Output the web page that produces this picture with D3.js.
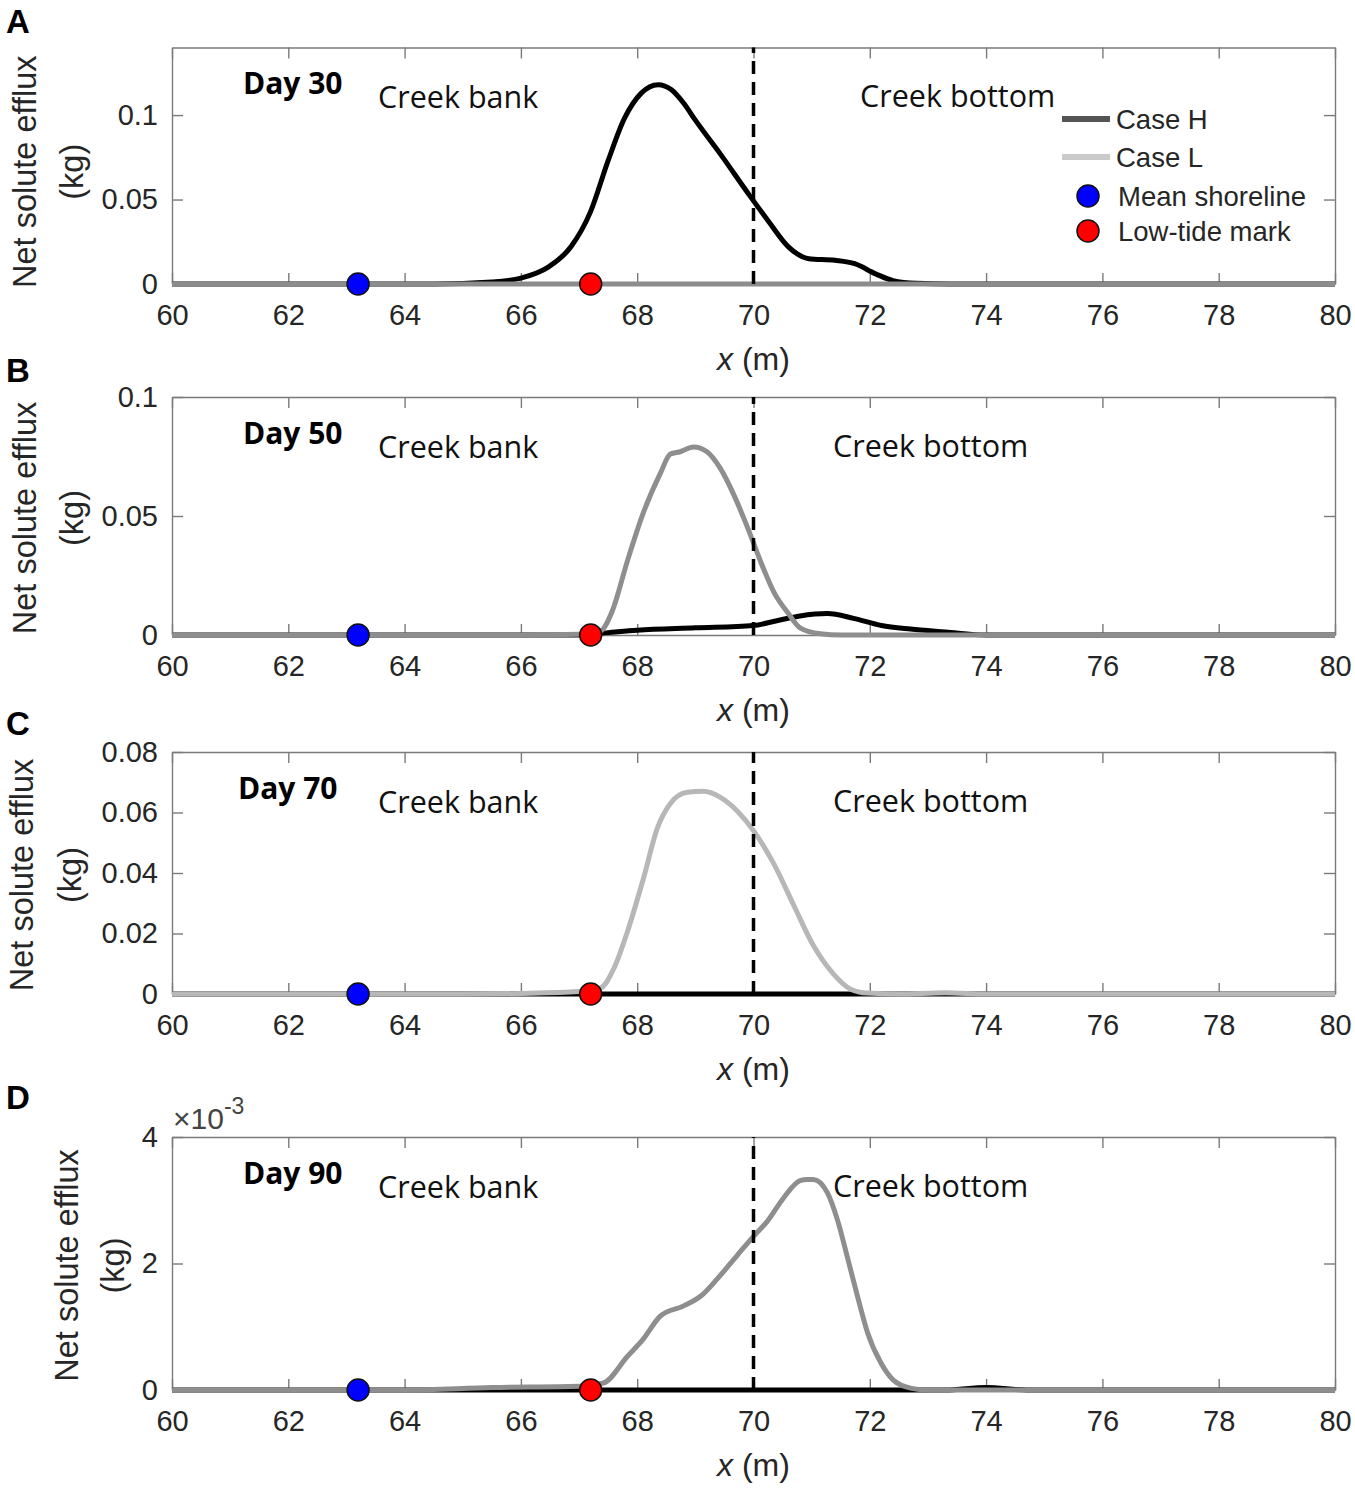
<!DOCTYPE html>
<html>
<head>
<meta charset="utf-8">
<script src="https://cdn.jsdelivr.net/npm/d3@7"></script>
<style>
  html, body { margin: 0; padding: 0; background: #fff; }
  svg { display: block; }
</style>
</head>
<body>
<svg id="chart" width="1355" height="1489"></svg>
<script>
// ---------------- DATA ----------------
const xDomain = [60, 80];
const xTicks = [60, 62, 64, 66, 68, 70, 72, 74, 76, 78, 80];
const panelLetters = ["A", "B", "C", "D"];
const dayLabels = ["Day 30", "Day 50", "Day 70", "Day 90"];
const yMax = [0.14, 0.1, 0.08, 4];
const yTicksA = [0, 0.05, 0.1];
const yTicksB = [0, 0.05, 0.1];
const yTicksC = [0, 0.02, 0.04, 0.06, 0.08];
const yTicksD = [0, 2, 4];
const yTickLabelsA = ["0", "0.05", "0.1"];
const yTickLabelsB = ["0", "0.05", "0.1"];
const yTickLabelsC = ["0", "0.02", "0.04", "0.06", "0.08"];
const yTickLabelsD = ["0", "2", "4"];
const meanShorelineX = 63.2;
const lowTideMarkX = 67.2;
const boundaryX = 70;

// Panel A (Day 30)
const xA_H = [60, 64.5, 65.5, 66.0, 66.47, 66.86, 67.2, 67.5, 67.78, 68.07, 68.36, 68.59, 68.8, 69.0, 69.45, 69.9, 70.26, 70.6, 70.95, 71.4, 71.74, 72.1, 72.4, 72.8, 73.4, 80];
const yA_H = [0, 0, 0.0012, 0.0035, 0.010, 0.022, 0.043, 0.073, 0.098, 0.113, 0.118, 0.115, 0.107, 0.097, 0.076, 0.054, 0.037, 0.022, 0.015, 0.014, 0.012, 0.006, 0.002, 0.0004, 0, 0];
const xA_L = [60, 70, 80];
const yA_L = [0, 0, 0];

// Panel B (Day 50)
const xB_H = [60, 67.0, 67.5, 68.0, 69.0, 70.0, 70.4, 70.8, 71.27, 71.72, 72.2, 72.7, 73.3, 74, 80];
const yB_H = [0, 0, 0.001, 0.002, 0.003, 0.004, 0.006, 0.008, 0.009, 0.007, 0.004, 0.0025, 0.0013, 0, 0];
const xB_L = [60, 66, 67.0, 67.37, 67.57, 67.83, 68.1, 68.4, 68.57, 68.74, 68.97, 69.2, 69.43, 69.66, 69.9, 70.12, 70.35, 70.6, 70.8, 71.15, 71.5, 80];
const yB_L = [0, 0, 0.0003, 0.0017, 0.010, 0.031, 0.051, 0.068, 0.076, 0.077, 0.079, 0.077, 0.070, 0.059, 0.045, 0.031, 0.018, 0.009, 0.003, 0.0005, 0, 0];

// Panel C (Day 70)
const xC_H = [60, 70, 80];
const yC_H = [0, 0, 0];
const xC_L = [60, 65, 66, 67.0, 67.37, 67.6, 67.83, 68.1, 68.35, 68.57, 68.86, 69.14, 69.43, 69.72, 70.0, 70.35, 70.7, 71.03, 71.38, 71.67, 71.96, 72.5, 73.3, 74, 80];
const yC_L = [0, 0, 0.0002, 0.0008, 0.002, 0.0085, 0.0205, 0.0377, 0.055, 0.063, 0.0667, 0.067, 0.065, 0.0605, 0.054, 0.043, 0.029, 0.016, 0.0065, 0.0016, 0.0003, 0, 0.0004, 0, 0];

// Panel D (Day 90), values in 1e-3 kg
const xD_H = [60, 73.3, 74.0, 74.7, 80];
const yD_H = [0, 0, 0.04, 0, 0];
const xD_L = [60, 64, 65.5, 67.0, 67.42, 67.83, 68.1, 68.4, 68.8, 69.1, 69.38, 69.72, 70.0, 70.24, 70.52, 70.8, 70.93, 71.03, 71.27, 71.45, 71.62, 71.8, 71.96, 72.19, 72.4, 72.7, 73.0, 80];
const yD_L = [0, 0, 0.04, 0.06, 0.11, 0.53, 0.8, 1.17, 1.33, 1.49, 1.76, 2.13, 2.43, 2.67, 3.04, 3.31, 3.33, 3.33, 3.12, 2.67, 2.08, 1.44, 0.91, 0.43, 0.16, 0.03, 0, 0];

const legendLabels = ["Case H", "Case L", "Mean shoreline", "Low-tide mark"];

// ---------------- LAYOUT / STYLE ----------------
const svg = d3.select("#chart");
const plotLeft = 172, plotRight = 1335;
const x = d3.scaleLinear().domain(xDomain).range([plotLeft, plotRight]);

const panels = [
  { top: 47.5, bottom: 284, letterY: 33, yTicks: yTicksA, yLabels: yTickLabelsA, xH: xA_H, yH: yA_H, xL: xA_L, yL: yA_L, gray: "#8c8c8c", ylabX: [25, 72], bottomX: 860 },
  { top: 397, bottom: 635, letterY: 382, yTicks: yTicksB, yLabels: yTickLabelsB, xH: xB_H, yH: yB_H, xL: xB_L, yL: yB_L, gray: "#8e8e8e", ylabX: [25, 72], bottomX: 833 },
  { top: 752, bottom: 994, letterY: 735, yTicks: yTicksC, yLabels: yTickLabelsC, xH: xC_H, yH: yC_H, xL: xC_L, yL: yC_L, gray: "#b7b7b7", ylabX: [22, 70], bottomX: 833 },
  { top: 1137, bottom: 1390, letterY: 1109, yTicks: yTicksD, yLabels: yTickLabelsD, xH: xD_H, yH: yD_H, xL: xD_L, yL: yD_L, gray: "#8e8e8e", ylabX: [67, 113], bottomX: 833 }
];

const axisColor = "#7a7a7a";
const tickTextColor = "#262626";
const numFont = "'Liberation Sans', Arial, sans-serif";
const annFont = "'Open Sans', sans-serif";

panels.forEach((p, i) => {
  const y = d3.scaleLinear().domain([0, yMax[i]]).range([p.bottom, p.top]);
  const g = svg.append("g");

  // Axes (box with inward ticks)
  const bottomAxis = d3.axisBottom(x).tickValues(xTicks).tickSizeInner(-11).tickSizeOuter(0).tickPadding(20).tickFormat(d3.format("d"));
  const topAxis = d3.axisTop(x).tickValues(xTicks).tickSizeInner(-11).tickSizeOuter(0).tickFormat("");
  const leftAxis = d3.axisLeft(y).tickValues(p.yTicks).tickSizeInner(-11).tickSizeOuter(0).tickPadding(14).tickFormat((d, k) => p.yLabels[k]);
  const rightAxis = d3.axisRight(y).tickValues(p.yTicks).tickSizeInner(-11).tickSizeOuter(0).tickFormat("");

  const axes = [
    g.append("g").attr("transform", `translate(0,${p.bottom})`).call(bottomAxis),
    g.append("g").attr("transform", `translate(0,${p.top})`).call(topAxis),
    g.append("g").attr("transform", `translate(${plotLeft},0)`).call(leftAxis),
    g.append("g").attr("transform", `translate(${plotRight},0)`).call(rightAxis)
  ];
  axes.forEach(a => {
    a.select(".domain").attr("stroke", axisColor).attr("stroke-width", 1.4);
    a.selectAll(".tick line").attr("stroke", axisColor).attr("stroke-width", 1.4);
    a.selectAll(".tick text").attr("fill", tickTextColor).style("font-family", numFont).style("font-size", "29px");
  });

  // x label
  const xl = g.append("text")
    .attr("x", (plotLeft + plotRight) / 2)
    .attr("y", p.bottom + 75)
    .attr("dy", "0.35em")
    .attr("text-anchor", "middle")
    .attr("fill", tickTextColor)
    .style("font-family", numFont).style("font-size", "32px");
  xl.append("tspan").style("font-style", "italic").text("x");
  xl.append("tspan").text(" (m)");

  // y label (two lines)
  const cy = (p.top + p.bottom) / 2 + (i === 0 ? 6 : 2);
  ["Net solute efflux", "(kg)"].forEach((t, k) => {
    g.append("text")
      .attr("transform", `translate(${p.ylabX[k]},${cy}) rotate(-90)`)
      .attr("text-anchor", "middle")
      .attr("dy", "0.35em")
      .attr("fill", tickTextColor)
      .style("font-family", numFont).style("font-size", "32.5px")
      .text(t);
  });

  // panel letter
  g.append("text")
    .attr("x", 6).attr("y", p.letterY)
    .attr("fill", "#000")
    .style("font-family", numFont).style("font-size", "33px").style("font-weight", "bold")
    .text(panelLetters[i]);

  // lines: Case H (black) under Case L (gray)
  const line = d3.line().x(d => x(d[0])).y(d => y(d[1])).curve(d3.curveMonotoneX);
  g.append("path")
    .datum(p.xH.map((v, k) => [v, p.yH[k]]))
    .attr("d", line).attr("fill", "none").attr("stroke", "#000").attr("stroke-width", 5)
    .attr("stroke-linejoin", "round");
  g.append("path")
    .datum(p.xL.map((v, k) => [v, p.yL[k]]))
    .attr("d", line).attr("fill", "none").attr("stroke", p.gray).attr("stroke-width", 5)
    .attr("stroke-linejoin", "round");

  // dashed boundary
  g.append("line")
    .attr("x1", x(boundaryX)).attr("x2", x(boundaryX))
    .attr("y1", p.bottom).attr("y2", p.top)
    .attr("stroke", "#000").attr("stroke-width", 3.5)
    .attr("stroke-dasharray", "13,8");

  // markers
  [[meanShorelineX, "#0000ff"], [lowTideMarkX, "#ff0000"]].forEach(([mx, c]) => {
    g.append("circle")
      .attr("cx", x(mx)).attr("cy", y(0)).attr("r", 11)
      .attr("fill", c).attr("stroke", "#111").attr("stroke-width", 1.5);
  });

  // annotations
  g.append("text").attr("x", i === 2 ? 238 : 243).attr("y", p.top + 36).attr("dy", "0.35em")
    .style("font-family", annFont).style("font-size", "30px").style("font-weight", "bold")
    .attr("fill", "#000").text(dayLabels[i]);
  g.append("text").attr("x", 378).attr("y", p.top + 50).attr("dy", "0.35em")
    .style("font-family", annFont).style("font-size", "30.5px")
    .attr("fill", "#111").text("Creek bank");
  g.append("text").attr("x", p.bottomX).attr("y", p.top + 49).attr("dy", "0.35em")
    .style("font-family", annFont).style("font-size", "30.5px")
    .attr("fill", "#111").text("Creek bottom");

  // exponent label for panel D
  if (i === 3) {
    const ex = g.append("text").attr("x", 173).attr("y", p.top - 8)
      .attr("fill", "#444").style("font-family", numFont).style("font-size", "30px");
    ex.append("tspan").text("\u00d710");
    ex.append("tspan").attr("dy", -15).style("font-size", "23px").text("-3");
  }

  // legend in panel A
  if (i === 0) {
    const lg = g.append("g");
    const rows = [119, 157, 196, 231];
    lg.append("line").attr("x1", 1062).attr("x2", 1110).attr("y1", rows[0]).attr("y2", rows[0])
      .attr("stroke", "#555").attr("stroke-width", 6);
    lg.append("line").attr("x1", 1062).attr("x2", 1110).attr("y1", rows[1]).attr("y2", rows[1])
      .attr("stroke", "#cacaca").attr("stroke-width", 6);
    lg.append("circle").attr("cx", 1088).attr("cy", rows[2]).attr("r", 11)
      .attr("fill", "#0000ff").attr("stroke", "#111").attr("stroke-width", 1.5);
    lg.append("circle").attr("cx", 1088).attr("cy", rows[3]).attr("r", 11)
      .attr("fill", "#ff0000").attr("stroke", "#111").attr("stroke-width", 1.5);
    legendLabels.forEach((t, k) => {
      lg.append("text").attr("x", k < 2 ? 1116 : 1118).attr("y", rows[k]).attr("dy", "0.35em")
        .attr("fill", tickTextColor).style("font-family", numFont).style("font-size", "27.5px")
        .text(t);
    });
  }
});
</script>
</body>
</html>
